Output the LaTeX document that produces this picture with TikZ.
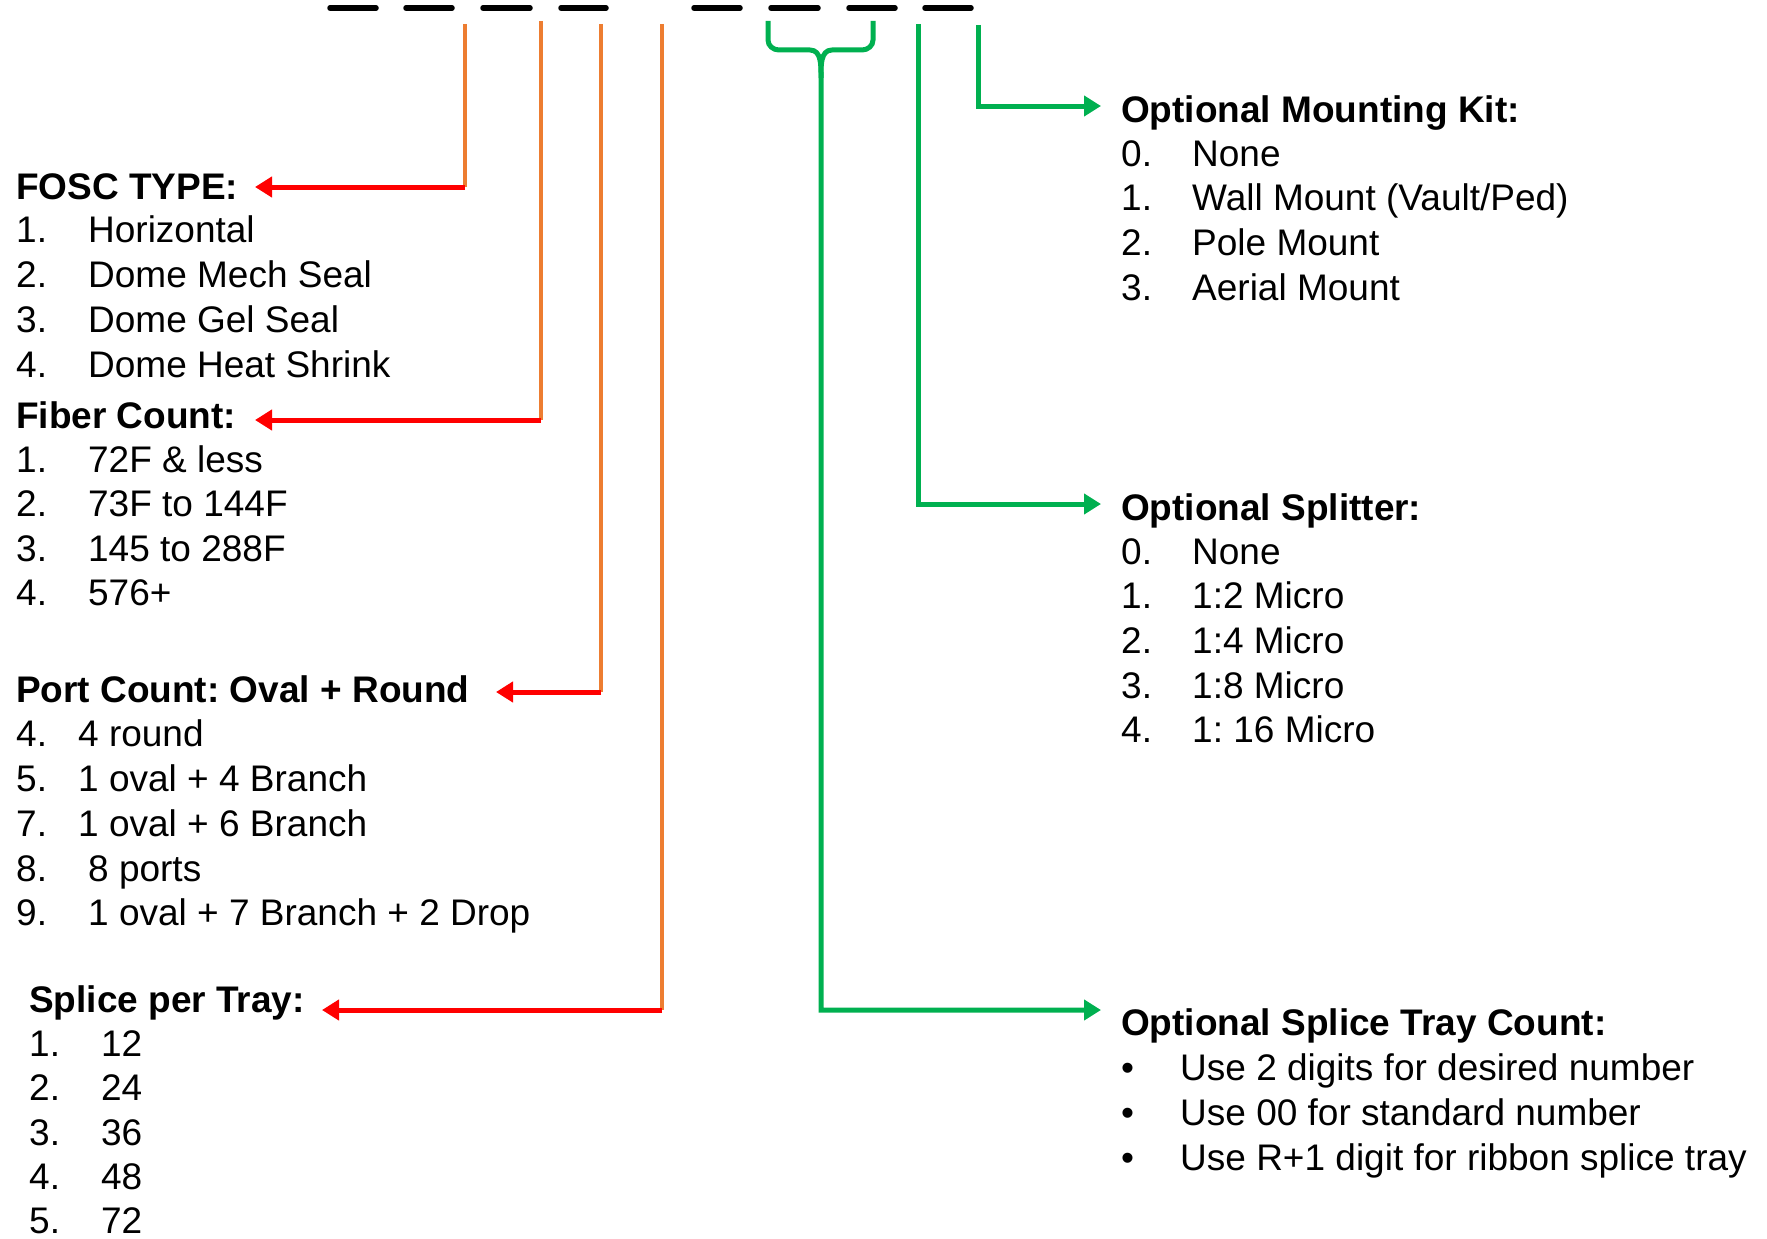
\documentclass[tikz,border=0pt]{standalone}
\usepackage{fontspec}
\setmainfont{Liberation Sans}
\usetikzlibrary{arrows.meta}
\frenchspacing

\definecolor{legorange}{RGB}{237,125,49}
\definecolor{legred}{RGB}{255,0,0}
\definecolor{leggreen}{RGB}{0,176,80}

% number + text of one list line
\newcommand{\entry}[3][72pt]{\makebox[#1][l]{#2}#3}

\tikzset{
  txt/.style={anchor=base west, inner sep=0pt, font=\fontsize{37}{44}\selectfont},
  head/.style={anchor=base west, inner sep=0pt, font=\fontsize{37}{44}\selectfont\bfseries},
  codebar/.style={line width=5.5pt, line cap=round},
  feed/.style={legorange, line width=4.5pt},
  pointer/.style={legred, line width=5pt, -{Triangle[length=17pt,width=20pt]}},
  optline/.style={leggreen, line width=5pt},
  optarrow/.style={leggreen, line width=5pt, -{Triangle[length=17pt,width=20pt]}},
}

\begin{document}
\begin{tikzpicture}[x=1pt,y=-1pt]
			\useasboundingbox (0,0) rectangle (1767,1239);
			% code blanks
			\draw[codebar] (330,8) -- (376,8);
			\draw[codebar] (406,8) -- (452,8);
			\draw[codebar] (483,8) -- (530,8);
			\draw[codebar] (561,8) -- (606,8);
			\draw[codebar] (694,8) -- (740,8);
			\draw[codebar] (771,8) -- (818,8);
			\draw[codebar] (849,8) -- (895,8);
			\draw[codebar] (925,8) -- (971,8);

			% FOSC type
			\node[head] (fosc) at (16,199) {FOSC TYPE:};
			\node[txt] (fosc1) at (16,242) {\entry{1.}{Horizontal}};
			\node[txt] (fosc2) at (16,287) {\entry{2.}{Dome Mech Seal}};
			\node[txt] (fosc3) at (16,332) {\entry{3.}{Dome Gel Seal}};
			\node[txt] (fosc4) at (16,377) {\entry{4.}{Dome Heat Shrink}};
			% fiber count
			\node[head] (fiber) at (16,428) {Fiber Count:};
			\node[txt] (fiber1) at (16,472) {\entry{1.}{72F \& less}};
			\node[txt] (fiber2) at (16,516) {\entry{2.}{73F to 144F}};
			\node[txt] (fiber3) at (16,561) {\entry{3.}{145 to 288F}};
			\node[txt] (fiber4) at (16,605) {\entry{4.}{576+}};
			% port count
			\node[head] (port) at (16,702) {Port Count: Oval + Round};
			\node[txt] (port4) at (16,746) {\entry[62pt]{4.}{4 round}};
			\node[txt] (port5) at (16,791) {\entry[62pt]{5.}{1 oval + 4 Branch}};
			\node[txt] (port7) at (16,836) {\entry[62pt]{7.}{1 oval + 6 Branch}};
			\node[txt] (port8) at (16,881) {\entry{8.}{8 ports}};
			\node[txt] (port9) at (16,925) {\entry{9.}{1 oval + 7 Branch + 2 Drop}};
			% splice per tray
			\node[head] (splice) at (29,1012) {Splice per Tray:};
			\node[txt] (splice1) at (29,1056) {\entry{1.}{12}};
			\node[txt] (splice2) at (29,1100) {\entry{2.}{24}};
			\node[txt] (splice3) at (29,1145) {\entry{3.}{36}};
			\node[txt] (splice4) at (29,1189) {\entry{4.}{48}};
			\node[txt] (splice5) at (29,1233) {\entry{5.}{72}};

			% mounting kit
			\node[head] (mount) at (1121,122) {Optional Mounting Kit:};
			\node[txt] (mount0) at (1121,166) {\entry[71pt]{0.}{None}};
			\node[txt] (mount1) at (1121,210) {\entry[71pt]{1.}{Wall Mount (Vault/Ped)}};
			\node[txt] (mount2) at (1121,255) {\entry[71pt]{2.}{Pole Mount}};
			\node[txt] (mount3) at (1121,300) {\entry[71pt]{3.}{Aerial Mount}};
			% splitter
			\node[head] (split) at (1121,520) {Optional Splitter:};
			\node[txt] (split0) at (1121,564) {\entry[71pt]{0.}{None}};
			\node[txt] (split1) at (1121,608) {\entry[71pt]{1.}{1:2 Micro}};
			\node[txt] (split2) at (1121,653) {\entry[71pt]{2.}{1:4 Micro}};
			\node[txt] (split3) at (1121,698) {\entry[71pt]{3.}{1:8 Micro}};
			\node[txt] (split4) at (1121,742) {\entry[71pt]{4.}{1: 16 Micro}};
			% splice tray count
			\node[head] (tray) at (1121,1035) {Optional Splice Tray Count:};
			\node[txt] (tray1) at (1121,1080) {\entry[59pt]{\textbullet}{Use 2 digits for desired number}};
			\node[txt] (tray2) at (1121,1125) {\entry[59pt]{\textbullet}{Use 00 for standard number}};
			\node[txt] (tray3) at (1121,1170) {\entry[59pt]{\textbullet}{Use R+1 digit for ribbon splice tray}};

			% orange drops, red pointers
			\coordinate (fosctop) at (465,24);
			\coordinate (foscturn) at (465,187);
			\coordinate (fosctip) at (255,187);
			\draw[feed] (fosctop) -- (foscturn);
			\draw[pointer] (foscturn) -- (fosctip);
			\coordinate (fibertop) at (541,21);
			\coordinate (fiberturn) at (541,420);
			\coordinate (fibertip) at (255,420);
			\draw[feed] (fibertop) -- (fiberturn);
			\draw[pointer] (fiberturn) -- (fibertip);
			\coordinate (porttop) at (601,24);
			\coordinate (portturn) at (601,692);
			\coordinate (porttip) at (496,692);
			\draw[feed] (porttop) -- (portturn);
			\draw[pointer] (portturn) -- (porttip);
			\coordinate (splicetop) at (662,24);
			\coordinate (spliceturn) at (662,1010);
			\coordinate (splicetip) at (322,1010);
			\draw[feed] (splicetop) -- (spliceturn);
			\draw[pointer] (spliceturn) -- (splicetip);

			% green options
			\coordinate (mounttop) at (978,25);
			\coordinate (mounttip) at (1101,106);
			\draw[optarrow] (mounttop) |- (mounttip);
			\coordinate (splittop) at (918,24);
			\coordinate (splittip) at (1101,504);
			\draw[optarrow] (splittop) |- (splittip);
			% bracket over two blanks
			\coordinate (trayleft) at (768,21);
			\coordinate (trayright) at (873,21);
			\coordinate (traystem) at (821,78);
			\coordinate (traytip) at (1101,1010);
			\draw[optline] (trayright) -- (873,40) to[out=-90,in=0] (862,50) -- (832,50) to[out=180,in=90] (traystem);
			\draw[optarrow] (trayleft) -- (768,40) to[out=-90,in=180] (779,50) -- (810,50) to[out=0,in=90] (traystem) |- (traytip);
		\end{tikzpicture}
\end{document}
